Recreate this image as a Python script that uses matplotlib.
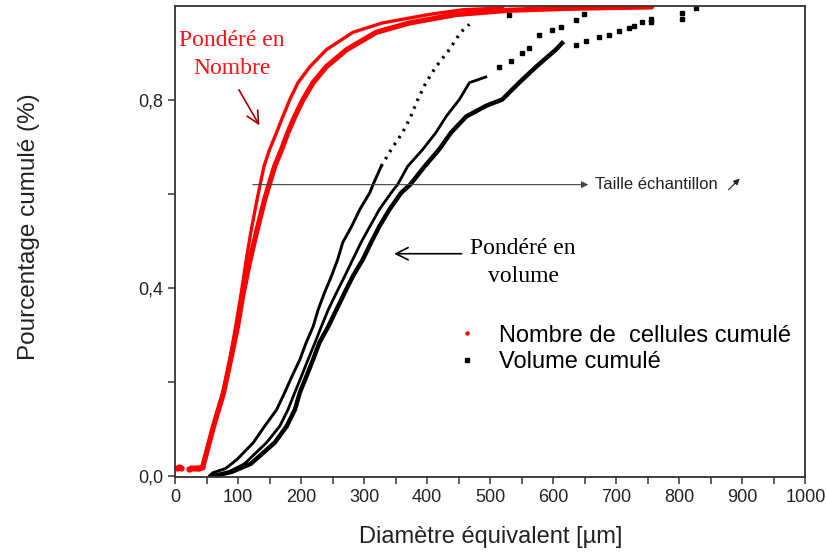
import matplotlib
matplotlib.use("Agg")
import matplotlib.pyplot as plt
from matplotlib.lines import Line2D
from matplotlib.ticker import MultipleLocator, FixedLocator, FuncFormatter

SANS = ["Liberation Sans", "DejaVu Sans"]
SERIF = ["Liberation Serif", "DejaVu Serif"]
RED, BLK, AX = "#ff0000", "#000000", "#333333"

# cumul en nombre : deux séries rouges (diamètre en µm, fraction cumulée)
RN_A_X = [43, 60, 76, 87, 96, 105, 113, 120, 130, 141, 150, 161, 171, 182,
          195, 214, 240, 282, 329, 403, 456, 520]
RN_A_Y = [0.019, 0.105, 0.177, 0.247, 0.317, 0.389, 0.46, 0.517, 0.587, 0.658,
          0.694, 0.73, 0.764, 0.8, 0.836, 0.87, 0.906, 0.943, 0.963, 0.981,
          0.991, 0.995]
RN_B_X = [44, 61, 77, 88, 99, 108, 119, 129, 142, 158, 169, 179, 190, 203,
          219, 240, 272, 319, 372, 446, 530, 620, 700, 756]
RN_B_Y = [0.019, 0.105, 0.177, 0.247, 0.317, 0.389, 0.46, 0.517, 0.587, 0.658,
          0.694, 0.73, 0.764, 0.8, 0.836, 0.87, 0.906, 0.943, 0.963, 0.981,
          0.99, 0.994, 0.996, 0.997]
# petits diamètres isolés au pied de la courbe rouge
RN_FOOT_X = [3, 6, 10, 22, 26, 30, 34, 38, 42]
RN_FOOT_Y = [0.017, 0.019, 0.017, 0.015, 0.016, 0.016, 0.017, 0.017, 0.018]

# cumul en volume : trois séries noires
VA_X = [55, 60, 80, 98, 124, 142, 161, 174, 185, 198, 208, 219, 227, 237, 248,
        258, 266, 280, 293, 309, 314, 327]
VA_Y = [0.0, 0.006, 0.015, 0.034, 0.07, 0.105, 0.14, 0.177, 0.21, 0.247, 0.283,
        0.317, 0.353, 0.389, 0.424, 0.46, 0.496, 0.53, 0.566, 0.602, 0.619, 0.658]
VA_TAIL_X = [327, 343, 361, 374, 385, 398, 414, 435, 453, 467]
VA_TAIL_Y = [0.658, 0.694, 0.73, 0.764, 0.8, 0.836, 0.87, 0.906, 0.943, 0.96]
VA_END_X = [530]
VA_END_Y = [0.98]

VB_X = [60, 85, 110, 145, 166, 179, 190, 200, 211, 222, 232, 243, 256, 269,
        282, 295, 309, 324, 343, 353, 369, 393, 414, 430, 451, 467, 493]
VB_Y = [0.0, 0.008, 0.025, 0.07, 0.105, 0.14, 0.177, 0.21, 0.247, 0.283, 0.317,
        0.353, 0.389, 0.424, 0.46, 0.496, 0.53, 0.566, 0.602, 0.619, 0.658,
        0.694, 0.73, 0.764, 0.8, 0.836, 0.848]
VB_END_X = [514, 533, 551, 562, 578, 598, 612, 636, 649]
VB_END_Y = [0.87, 0.881, 0.9, 0.91, 0.938, 0.949, 0.955, 0.97, 0.981]

VC_X = [65, 90, 120, 158, 177, 190, 198, 208, 219, 229, 243, 256, 269, 282,
        298, 311, 324, 340, 359, 373, 396, 419, 438, 462, 494, 519, 546, 573,
        604, 614]
VC_Y = [0.0, 0.008, 0.025, 0.07, 0.105, 0.14, 0.177, 0.21, 0.247, 0.283, 0.317,
        0.353, 0.389, 0.424, 0.46, 0.496, 0.53, 0.566, 0.602, 0.619, 0.658,
        0.694, 0.73, 0.764, 0.787, 0.8, 0.836, 0.87, 0.906, 0.92]
VC_END_X = [636, 652, 672, 688, 704, 720, 728, 741, 755, 755, 804, 804, 826]
VC_END_Y = [0.917, 0.924, 0.934, 0.938, 0.945, 0.953, 0.956, 0.964, 0.964,
            0.972, 0.972, 0.985, 0.994]

X_TICKS = [0, 100, 200, 300, 400, 500, 600, 700, 800, 900, 1000]
Y_TICKS = [0.0, 0.4, 0.8]
Y_MINOR = [0.2, 0.6]

fig = plt.figure(figsize=(8.26, 5.54), dpi=100)
ax = fig.add_axes([0.212, 0.139, 0.763, 0.851])

# courbes rouges
ax.plot(RN_A_X, RN_A_Y, color=RED, lw=2.4, solid_capstyle="round")
ax.plot(RN_B_X, RN_B_Y, color=RED, lw=3.8, solid_capstyle="round")
ax.plot(RN_FOOT_X, RN_FOOT_Y, ls="none", marker="o", ms=3.5, color=RED)

# courbes noires
ax.plot(VA_X, VA_Y, color=BLK, lw=2.1)
ax.plot(VA_TAIL_X, VA_TAIL_Y, color=BLK, lw=2.3, dashes=(0.8, 1.8))
ax.plot(VA_END_X, VA_END_Y, ls="none", marker="s", ms=2.5, color=BLK)
ax.plot(VB_X, VB_Y, color=BLK, lw=2.0)
ax.plot(VB_END_X, VB_END_Y, ls="none", marker="s", ms=2.6, color=BLK)
ax.plot(VC_X, VC_Y, color=BLK, lw=3.2)
ax.plot(VC_END_X, VC_END_Y, ls="none", marker="s", ms=3.0, color=BLK)

# flèche "taille échantillon"
ax.annotate("", xy=(660, 0.619), xytext=(119, 0.619),
            arrowprops=dict(arrowstyle="-|>", color="#444444", lw=0.8,
                            mutation_scale=10))
ax.text(666, 0.619, "Taille échantillon", fontsize=12, family=SANS,
        color="#222222", va="center", ha="left")
ax.annotate("", xy=(899, 0.636), xytext=(875, 0.604),
            arrowprops=dict(arrowstyle="-|>", color="#222222", lw=0.8,
                            mutation_scale=9))

# annotations pondération
ax.text(90, 0.896, "Pondéré en\nNombre", fontsize=17, family=SERIF,
        color="#ff1010", ha="center", va="center", linespacing=1.45)
ax.annotate("", xy=(136, 0.74), xytext=(99, 0.826),
            arrowprops=dict(arrowstyle="->", color="#a00000", lw=1.2,
                            mutation_scale=22))
ax.text(552, 0.453, "Pondéré en\nvolume", fontsize=17, family=SERIF,
        color=BLK, ha="center", va="center", linespacing=1.45)
ax.annotate("", xy=(343, 0.472), xytext=(459, 0.472),
            arrowprops=dict(arrowstyle="->", color=BLK, lw=1.2,
                            mutation_scale=22))

handles = [Line2D([], [], ls="none", marker="o", ms=2.2, color=RED),
           Line2D([], [], ls="none", marker="s", ms=3.0, color=BLK)]
ax.legend(handles, ["Nombre de  cellules cumulé", "Volume cumulé"],
          loc="upper left", bbox_to_anchor=(0.418, 0.358), frameon=False,
          prop=dict(family=SANS, size=17), handlelength=1.0,
          handletextpad=0.85, labelspacing=0.2, borderpad=0.2)

ax.set_xlim(0, 1000)
ax.set_ylim(-0.003, 1.0)
ax.xaxis.set_major_locator(FixedLocator(X_TICKS))
ax.xaxis.set_minor_locator(MultipleLocator(50))
ax.yaxis.set_major_locator(FixedLocator(Y_TICKS))
ax.yaxis.set_minor_locator(FixedLocator(Y_MINOR))
ax.yaxis.set_major_formatter(FuncFormatter(lambda v, _: f"{v:.1f}".replace(".", ",")))
ax.tick_params(which="both", direction="out", length=5, width=1.1,
               color=AX, labelsize=13, labelcolor="#222222")
for t in ax.get_xticklabels() + ax.get_yticklabels():
    t.set_family(SANS)
for s in ax.spines.values():
    s.set_color(AX)
    s.set_linewidth(1.3)

ax.set_xlabel("Diamètre équivalent [µm]", fontsize=17, family=SANS,
              color="#222222")
ax.xaxis.set_label_coords(0.5, -0.105)
ax.set_ylabel("Pourcentage cumulé (%)", fontsize=17.5, family=SANS,
              color="#222222")
ax.yaxis.set_label_coords(-0.215, 0.531)

fig.savefig("out.png", dpi=100, facecolor="white")
